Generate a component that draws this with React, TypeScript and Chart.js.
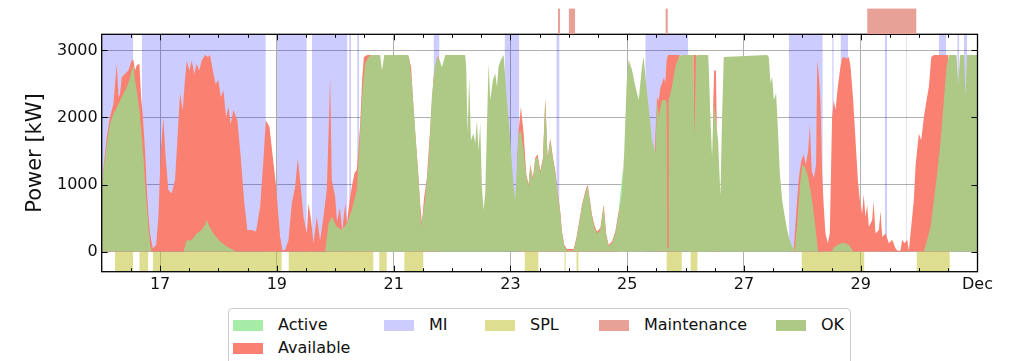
import { useEffect, useRef } from "react";
import { Chart, registerables } from "chart.js";

Chart.register(...registerables);
Chart.defaults.font.family = "'DejaVu Sans', sans-serif";

// x values are days since 16 Nov 00:00
const X_MIN = 0;
const X_MAX = 15;
const Y_MIN = -300;
const Y_MAX = 3240;
const MINOR_STEP = 0.5;

const xTickDays = [1, 3, 5, 7, 9, 11, 13, 15];
const xTickLabels = ["17", "19", "21", "23", "25", "27", "29", "Dec"];
const yTicks = [0, 1000, 2000, 3000];

const miSpans: [number, number][] = [
  [0, 0.542], [0.686, 2.811], [2.999, 3.513], [3.599, 4.209], [4.238, 4.272],
  [4.375, 4.41], [5.683, 5.786], [6.9, 7.152], [7.786, 7.842], [9.31, 10.043],
  [11.767, 12.35], [12.511, 12.538], [12.653, 12.785], [13.412, 13.453],
  [13.78, 13.795], [14.338, 14.464], [14.653, 14.687], [14.766, 14.824],
];

const splSpans: [number, number][] = [
  [0.228, 0.542], [0.644, 0.799], [0.874, 3.085], [3.198, 4.655], [4.752, 4.884],
  [5.181, 5.512], [7.242, 7.482], [7.923, 7.949], [8.129, 8.168], [9.673, 9.937],
  [10.083, 10.207], [11.985, 13.064], [13.956, 14.526],
];

const maintenanceSpans: [number, number][] = [
  [7.815, 7.854], [7.997, 8.111], [9.654, 9.697], [13.11, 13.956],
];

const availablePower: [number, number | null][] = [
  [0.0, 900], [0.03, 1250], [0.086, 1700], [0.14, 2000], [0.2, 2200], [0.257, 2800],
  [0.29, 2300], [0.314, 2350], [0.343, 2600], [0.4, 2650], [0.457, 2700], [0.514, 2850],
  [0.542, 2860], [0.571, 2700], [0.6, 2780], [0.646, 2800], [0.675, 2300], [0.703, 2050],
  [0.743, 1500], [0.771, 970], [0.8, 550], [0.828, 270], [0.874, 50], [0.931, 100],
  [0.971, 520], [1.011, 1500], [1.056, 2000], [1.096, 1400], [1.142, 920], [1.199, 870],
  [1.256, 1070], [1.302, 1760], [1.342, 2360], [1.388, 2110], [1.42, 2500], [1.457, 2850],
  [1.5, 2700], [1.542, 2850], [1.585, 2650], [1.628, 2800], [1.67, 2700], [1.713, 2850],
  [1.771, 2930], [1.82, 2900], [1.856, 2930], [1.913, 2660], [1.95, 2500], [1.999, 2560],
  [2.04, 2300], [2.085, 2410], [2.13, 2000], [2.17, 2160], [2.21, 1900], [2.255, 2110],
  [2.324, 1960], [2.381, 1415], [2.438, 770], [2.495, 320], [2.569, 320], [2.643, 300],
  [2.713, 670], [2.77, 1365], [2.81, 1960], [2.873, 1860], [2.93, 1415], [2.987, 970],
  [3.056, 220], [3.096, 25], [3.141, 25], [3.198, 170], [3.256, 720], [3.313, 970],
  [3.359, 1390], [3.398, 1070], [3.456, 520], [3.513, 270], [3.541, 720], [3.587, 470],
  [3.627, 125], [3.684, 520], [3.741, 170], [3.798, 520], [3.855, 920], [3.884, 1710],
  [3.913, 2610], [3.941, 1070], [3.998, 820], [4.03, 450], [4.08, 650], [4.12, 300],
  [4.17, 720], [4.2, 420], [4.24, 720], [4.284, 970], [4.33, 1170], [4.37, 1220],
  [4.427, 1910], [4.46, 2560], [4.49, 2900], [4.55, 2930], [4.66, 2930], [4.66, null],
  [5.25, 2930], [5.3, 2750], [5.34, 2150], [5.38, 1650], [5.415, 1250], [5.455, 700],
  [5.484, 430], [5.524, 820], [5.57, 1100], [5.627, 1850], [5.684, 2600], [5.741, 2880],
  [5.77, 2930], [5.77, null],
  [7.11, 1300], [7.14, 1800], [7.18, 2160], [7.226, 1760], [7.272, 1150], [7.312, 1000],
  [7.34, 1300], [7.386, 1100], [7.426, 1400], [7.466, 1450], [7.512, 1200], [7.557, 1400],
  [7.597, 2290], [7.637, 1400], [7.683, 1690], [7.729, 1400], [7.769, 1200], [7.809, 900],
  [7.854, 600], [7.883, 300], [7.923, 100], [7.969, 40], [8.083, 40], [8.129, 200],
  [8.169, 400], [8.226, 700], [8.283, 900], [8.323, 1000], [8.357, 800], [8.397, 550],
  [8.437, 400], [8.483, 300], [8.54, 350], [8.597, 700], [8.643, 250], [8.683, 100],
  [8.74, 150], [8.797, 300], [8.854, 600], [8.9, 850], [8.9, null],
  [9.47, 1470], [9.511, 2300], [9.54, 2250], [9.57, 2450], [9.597, 2510], [9.63, 2600],
  [9.654, 2510], [9.675, 2850], [9.7, 2930], [9.9, 2930], [9.9, null],
  [10.13, 2930], [10.19, 2930], [10.19, null],
  [10.47, 2100], [10.49, 2700], [10.52, 2700], [10.535, 2000], [10.535, null],
  [11.85, 0], [11.9, 650], [11.94, 1100], [11.98, 1350], [12.02, 1450], [12.06, 1300],
  [12.1, 1500], [12.13, 1900], [12.16, 1200], [12.2, 1100], [12.235, 1300], [12.255, 2850],
  [12.285, 2600], [12.31, 2260], [12.339, 1170], [12.367, 670], [12.396, 270], [12.436, 125],
  [12.47, 270], [12.5, 1600], [12.51, 2010], [12.539, 2260], [12.568, 2110], [12.608, 2460],
  [12.653, 2760], [12.68, 2880], [12.71, 2900], [12.76, 2880], [12.796, 2900], [12.825, 2760],
  [12.871, 2260], [12.911, 1660], [12.951, 1070], [12.985, 770], [13.025, 570], [13.05, 850],
  [13.082, 520], [13.11, 700], [13.139, 370], [13.196, 470], [13.22, 750], [13.253, 270],
  [13.31, 320], [13.34, 600], [13.368, 220], [13.425, 270], [13.482, 125], [13.539, 175],
  [13.596, 50], [13.625, 15], [13.682, 15], [13.71, 175], [13.75, 125], [13.796, 175],
  [13.825, 15], [13.853, 270], [13.91, 770], [13.94, 1300], [13.967, 1515], [13.996, 1760],
  [14.036, 1660], [14.082, 2010], [14.128, 2260], [14.168, 2460], [14.208, 2900],
  [14.253, 2930], [14.5, 2930], [14.5, null],
];

const okPower: [number, number | null][] = [
  [0.0, 900], [0.03, 1200], [0.086, 1600], [0.14, 1900], [0.2, 2050], [0.26, 2150],
  [0.314, 2250], [0.37, 2350], [0.429, 2450], [0.47, 2550], [0.514, 2700], [0.542, 2780],
  [0.571, 2550], [0.6, 2400], [0.646, 2100], [0.686, 1700], [0.72, 1350], [0.743, 1000],
  [0.771, 700], [0.8, 350], [0.83, 100], [0.857, 0], [0.857, null],
  [1.4, 0], [1.457, 170], [1.542, 170], [1.628, 270], [1.713, 320], [1.77, 400], [1.8, 470],
  [1.845, 370], [1.913, 270], [2.027, 150], [2.142, 75], [2.255, 25], [2.3, 0], [2.3, null],
  [3.827, 0], [3.884, 420], [3.941, 520], [4.027, 370], [4.113, 320], [4.199, 420],
  [4.284, 620], [4.37, 920], [4.427, 1810], [4.467, 2410], [4.513, 2800], [4.57, 2900],
  [4.62, 2930], [4.77, 2930], [4.8, 2700], [4.84, 2930], [5.25, 2930], [5.27, 2880],
  [5.312, 2510], [5.369, 1810], [5.427, 1070], [5.473, 370], [5.53, 720], [5.598, 1320],
  [5.655, 2310], [5.712, 2800], [5.77, 2900], [5.827, 2750], [5.884, 2930], [6.226, 2930],
  [6.243, 2760], [6.266, 1760], [6.295, 2610], [6.324, 1660], [6.369, 1760], [6.398, 1610],
  [6.426, 1960], [6.455, 1510], [6.483, 1910], [6.512, 970], [6.54, 620], [6.569, 870],
  [6.598, 1860], [6.626, 2810], [6.655, 2260], [6.7, 2560], [6.74, 2660], [6.769, 2460],
  [6.797, 2760], [6.837, 2860], [6.883, 2930], [6.94, 2260], [6.997, 1660], [7.054, 970],
  [7.083, 770], [7.111, 1270], [7.14, 1760], [7.18, 1800], [7.226, 1500], [7.272, 1120],
  [7.312, 970], [7.34, 1270], [7.386, 1070], [7.426, 1370], [7.466, 1415], [7.512, 1170],
  [7.557, 1370], [7.597, 2260], [7.637, 1370], [7.683, 1660], [7.729, 1370], [7.769, 1170],
  [7.809, 870], [7.854, 570], [7.883, 270], [7.923, 75], [7.969, 15], [8.083, 15],
  [8.129, 175], [8.169, 370], [8.226, 670], [8.283, 870], [8.323, 970], [8.357, 770],
  [8.397, 520], [8.437, 370], [8.483, 270], [8.54, 320], [8.597, 670], [8.643, 220],
  [8.683, 75], [8.74, 125], [8.797, 270], [8.854, 570], [8.911, 870], [8.95, 1500],
  [8.99, 2500], [9.025, 2860], [9.082, 2710], [9.14, 2460], [9.197, 2260], [9.254, 2760],
  [9.282, 2900], [9.322, 2510], [9.368, 2160], [9.425, 1660], [9.483, 1465], [9.511, 2260],
  [9.54, 2010], [9.597, 2260], [9.654, 2260], [9.677, 2200], [9.686, 50], [9.7, 50],
  [9.711, 2260], [9.768, 2460], [9.825, 2760], [9.882, 2900], [9.94, 2930], [10.128, 2930],
  [10.151, 1710], [10.18, 2900], [10.197, 2930], [10.386, 2930], [10.397, 2760],
  [10.425, 2010], [10.454, 1415], [10.482, 2260], [10.511, 2010], [10.557, 1660],
  [10.597, 820], [10.625, 2010], [10.654, 2900], [11.396, 2930], [11.425, 2900],
  [11.454, 2510], [11.482, 2610], [11.511, 2260], [11.551, 2360], [11.585, 1760],
  [11.614, 1170], [11.654, 770], [11.7, 520], [11.74, 320], [11.78, 175], [11.825, 75],
  [11.871, 25], [11.92, 500], [11.96, 1000], [12.0, 1300], [12.05, 1250], [12.1, 1100],
  [12.15, 850], [12.2, 550], [12.25, 150], [12.27, 0], [12.27, null],
  [12.5, 0], [12.54, 60], [12.6, 100], [12.7, 130], [12.8, 100], [12.87, 0], [12.87, null],
  [14.082, 0], [14.139, 175], [14.196, 370], [14.253, 770], [14.31, 1170], [14.368, 1660],
  [14.425, 2260], [14.47, 2760], [14.51, 2930], [14.64, 2930], [14.67, 2500], [14.7, 2930],
  [14.77, 2930], [14.795, 2300], [14.82, 2930], [15, 2930],
];

const activePower: [number, number | null][] = [
  [8.86, 650], [8.9, 1000], [8.93, 1250], [8.94, null],
];

const COLORS = {
  active: "#a6eba6",
  available: "#fa8072",
  mi: "rgba(0, 0, 255, 0.2)",
  miSwatch: "#ccccff",
  spl: "rgba(188, 189, 34, 0.5)",
  splSwatch: "#dedf90",
  maintenance: "#e8a196",
  ok: "#aec985",
};

const legendEntries = [
  { label: "Active", color: COLORS.active, col: 0, row: 0 },
  { label: "Available", color: COLORS.available, col: 0, row: 1 },
  { label: "MI", color: COLORS.miSwatch, col: 1, row: 0 },
  { label: "SPL", color: COLORS.splSwatch, col: 2, row: 0 },
  { label: "Maintenance", color: COLORS.maintenance, col: 3, row: 0 },
  { label: "OK", color: COLORS.ok, col: 4, row: 0 },
];
const LEGEND_COL_X = [4, 155, 256, 370, 547];
const LEGEND_ROW_Y = [16, 39];

const toPts = (arr: [number, number | null][]) => arr.map(([x, y]) => ({ x, y }));
const spanPts = (spans: [number, number][], y: number) =>
  spans.flatMap(([s, e]) => [{ x: s, y }, { x: e, y }, { x: e, y: null }]);

const framePlugin = {
  id: "frameTicks",
  afterDatasetsDraw(chart: any) {
    const { ctx, chartArea: a, scales } = chart;
    const xs = scales.x;
    const ys = scales.y;
    ctx.save();
    ctx.strokeStyle = "#000";
    ctx.lineWidth = 1;
    ctx.beginPath();
    for (let v = X_MIN + MINOR_STEP; v < X_MAX; v += MINOR_STEP) {
      const px = Math.round(xs.getPixelForValue(v)) + 0.5;
      const len = xTickDays.includes(v) ? 6 : 3.5;
      ctx.moveTo(px, a.bottom);
      ctx.lineTo(px, a.bottom - len);
      ctx.moveTo(px, a.top);
      ctx.lineTo(px, a.top + len);
    }
    for (const v of yTicks) {
      const py = Math.round(ys.getPixelForValue(v)) + 0.5;
      ctx.moveTo(a.left, py);
      ctx.lineTo(a.left + 6, py);
      ctx.moveTo(a.right, py);
      ctx.lineTo(a.right - 6, py);
    }
    ctx.stroke();
    ctx.lineWidth = 1.3;
    ctx.strokeRect(a.left, a.top, a.right - a.left, a.bottom - a.top);
    ctx.restore();
  },
};

const baseLine = {
  borderWidth: 0,
  borderColor: "rgba(0,0,0,0)",
  pointRadius: 0,
  tension: 0,
  fill: "origin",
  spanGaps: false,
};

export default function App() {
  const mainRef = useRef<HTMLCanvasElement | null>(null);
  const topRef = useRef<HTMLCanvasElement | null>(null);

  useEffect(() => {
    if (!mainRef.current || !topRef.current) return;
    const main = new Chart(mainRef.current, {
      type: "line",
      data: {
        datasets: [
          { ...baseLine, label: "OK", data: toPts(okPower), backgroundColor: COLORS.ok, order: 1 },
          { ...baseLine, label: "Active", data: toPts(activePower), backgroundColor: COLORS.active, order: 2 },
          { ...baseLine, label: "Available", data: toPts(availablePower), backgroundColor: COLORS.available, order: 3 },
          { ...baseLine, label: "MI", data: spanPts(miSpans, Y_MAX), backgroundColor: COLORS.mi, order: 5 },
          { ...baseLine, label: "SPL", data: spanPts(splSpans, Y_MIN), backgroundColor: COLORS.spl, order: 6 },
        ] as any,
      },
      options: {
        animation: false,
        responsive: false,
        events: [],
        layout: { padding: { left: 0, right: 35.5, top: 34.3, bottom: 0 } },
        plugins: { legend: { display: false }, tooltip: { enabled: false } },
        scales: {
          x: {
            type: "linear",
            min: X_MIN,
            max: X_MAX,
            afterBuildTicks: (s: any) => {
              s.ticks = xTickDays.map((v) => ({ value: v }));
            },
            afterFit: (s: any) => {
              s.height = 89.3;
              s.paddingLeft = 0;
              s.paddingRight = 0;
            },
            ticks: {
              autoSkip: false,
              maxRotation: 0,
              padding: 4,
              color: "#111",
              font: { size: 16 },
              callback: (v: any) => xTickLabels[xTickDays.indexOf(Number(v))] ?? "",
            },
            grid: { color: "#b0b0b0", lineWidth: 1, drawTicks: false },
            border: { display: false },
          },
          y: {
            type: "linear",
            min: Y_MIN,
            max: Y_MAX,
            afterBuildTicks: (s: any) => {
              s.ticks = yTicks.map((v) => ({ value: v }));
            },
            afterFit: (s: any) => {
              s.width = 101.7;
              s.paddingTop = 0;
              s.paddingBottom = 0;
            },
            ticks: {
              padding: 4,
              color: "#111",
              font: { size: 16 },
              callback: (v: any) => String(v),
            },
            grid: { color: "#b0b0b0", lineWidth: 1, drawTicks: false },
            border: { display: false },
            title: {
              display: true,
              text: "Power [kW]",
              color: "#111",
              font: { size: 21 },
              padding: { top: 23, bottom: 0 },
            },
          },
        },
      } as any,
      plugins: [framePlugin],
    });

    const top = new Chart(topRef.current, {
      type: "line",
      data: {
        datasets: [
          {
            ...baseLine,
            label: "Maintenance",
            data: spanPts(maintenanceSpans, 1),
            backgroundColor: COLORS.maintenance,
          },
        ] as any,
      },
      options: {
        animation: false,
        responsive: false,
        events: [],
        layout: { padding: { left: 101.7, right: 35.5, top: 8.3, bottom: 5.7 } },
        plugins: { legend: { display: false }, tooltip: { enabled: false } },
        scales: {
          x: { type: "linear", min: X_MIN, max: X_MAX, display: false },
          y: { type: "linear", min: 0, max: 1, display: false },
        },
      } as any,
    });

    return () => {
      main.destroy();
      top.destroy();
    };
  }, []);

  return (
    <div
      style={{
        position: "fixed",
        left: 0,
        top: 0,
        width: 1013,
        height: 361,
        overflow: "hidden",
        background: "#fff",
        fontFamily: "'DejaVu Sans', sans-serif",
      }}
    >
      <canvas ref={mainRef} width={1013} height={361} style={{ position: "absolute", left: 0, top: 0 }} />
      <canvas
        ref={topRef}
        width={1013}
        height={40}
        style={{ position: "absolute", left: 0, top: 0, pointerEvents: "none" }}
      />
      <div
        style={{
          position: "absolute",
          left: 228,
          top: 308,
          width: 623,
          height: 70,
          border: "1px solid #cccccc",
          borderRadius: 4,
          boxSizing: "border-box",
          background: "#fff",
        }}
      >
        {legendEntries.map((e) => (
          <div
            key={e.label}
            style={{
              position: "absolute",
              left: LEGEND_COL_X[e.col],
              top: LEGEND_ROW_Y[e.row] - 10,
              height: 20,
              display: "flex",
              alignItems: "center",
              whiteSpace: "nowrap",
            }}
          >
            <span style={{ display: "inline-block", width: 30, height: 11, background: e.color }} />
            <span style={{ marginLeft: 15, fontSize: 16, color: "#111", lineHeight: "20px" }}>{e.label}</span>
          </div>
        ))}
      </div>
    </div>
  );
}
